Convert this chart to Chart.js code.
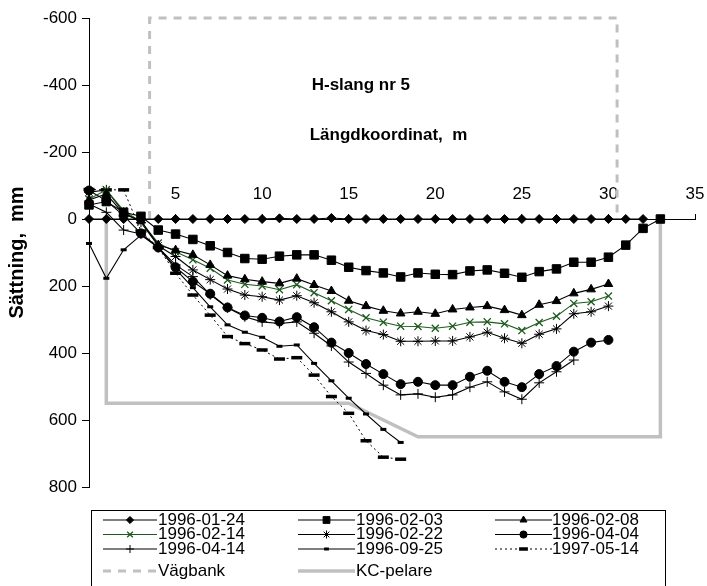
<!DOCTYPE html>
<html><head><meta charset="utf-8">
<script src="https://cdn.jsdelivr.net/npm/chart.js"></script>
<style>html,body{margin:0;padding:0;background:#fff;overflow:hidden}#wrap{position:relative;width:707px;height:586px}</style>
</head><body><div id="wrap"><canvas id="c" width="707" height="586"></canvas></div>
<script>
// ---- data (x = length coordinate in m, y = settlement in mm; negative = heave) ----
const meters = [0,1,2,3,4,5,6,7,8,9,10,11,12,13,14,15,16,17,18,19,20,21,22,23,24,25,26,27,28,29,30,31,32,33];
const s19960124 = [0,0,0,0,0,0,0,0,0,0,0,-2,0,0,-3,0,0,0,0,0,0,0,0,0,0,0,0,0,0,0,0,0,0];
const s19960203 = [-42,-52,-20,-8,33,45,61,80,100,118,120,111,107,107,123,144,154,161,173,161,165,166,155,152,162,174,157,149,129,129,114,78,28,0];
const s19960208 = [-57,-75,-15,5,78,93,107,137,169,180,187,192,178,197,215,244,260,274,282,277,283,270,264,260,272,287,256,245,222,210,194];
const s19960214 = [-59,-87,-25,8,72,98,122,147,182,195,200,211,196,220,244,270,295,308,320,321,326,320,308,307,313,333,309,290,252,247,230];
const s19960222 = [-80,-87,-20,10,80,112,152,181,209,227,232,242,229,250,277,307,333,345,365,365,364,364,352,338,356,371,344,328,283,277,260];
const s19960404 = [-85,-55,-10,43,85,144,187,223,264,288,295,306,293,323,369,400,433,463,493,486,496,496,471,453,486,502,463,439,396,369,361];
const s19960414 = [-45,-20,33,45,85,137,172,226,265,292,307,312,307,341,379,427,461,496,525,522,532,525,502,486,516,538,489,456,421];
const s19960925 = [73,177,92,48,85,150,205,262,316,338,353,380,376,431,483,535,582,628,667];
const s19970514 = [-88,-87,-87,36,85,162,227,287,351,372,391,418,414,466,530,580,662,711,717];
const vagbankX = [3.5,3.5,30.5,30.5];
const vagbankY = [0,-600,-600,0];
const kcX = [1,1,15,19,33,33];
const kcY = [0,550,550,650,650,0];
const xTicks = [5,10,15,20,25,30,35];
const yTicks = [-600,-400,-200,0,200,400,600,800];

const BLACK = '#000000', GREEN = '#1e5a1e', GREY = '#c0c0c0';
const FONT = "'Liberation Sans', Arial, sans-serif";
function pts(vals){ return vals.map((v,i)=>({x:meters[i], y:v})); }
function xy(xs, ys){ return xs.map((x,i)=>({x:x, y:ys[i]})); }

function series(label, vals, style, radius, opts){
  return Object.assign({
    label: label, data: pts(vals), borderColor: BLACK, backgroundColor: BLACK,
    pointBackgroundColor: BLACK, pointBorderColor: BLACK,
    borderWidth: 1.1, pointStyle: style, pointRadius: radius, pointBorderWidth: 1,
    tension: 0, clip: false
  }, opts || {});
}

const datasets = [
  series('1996-01-24', s19960124, 'rectRot', 4.5),
  series('1996-02-03', s19960203, 'rect', 6),
  series('1996-02-08', s19960208, 'triangle', 5),
  series('1996-02-14', s19960214, 'crossRot', 5, {borderColor: GREEN, pointBorderColor: GREEN, pointBackgroundColor: GREEN, backgroundColor: GREEN, pointBorderWidth: 1.3}),
  series('1996-02-22', s19960222, 'star', 5),
  series('1996-04-04', s19960404, 'circle', 4.5),
  series('1996-04-14', s19960414, 'cross', 5),
  series('1996-09-25', s19960925, 'line', 3, {pointBorderWidth: 3}),
  series('1997-05-14', s19970514, 'line', 5.5, {pointBorderWidth: 3.5, borderDash: [2,3], borderWidth: 1}),
  {label: 'Vägbank', data: xy(vagbankX, vagbankY), borderColor: GREY, backgroundColor: GREY, borderWidth: 3, borderDash: [8,7], pointRadius: 0, tension: 0, order: 10, clip: false},
  {label: 'KC-pelare', data: xy(kcX, kcY), borderColor: GREY, backgroundColor: GREY, borderWidth: 3.5, pointRadius: 0, tension: 0, order: 11, clip: false}
];

const innerText = {
  id: 'innerText',
  afterDraw(chart){
    const ctx = chart.ctx, xs = chart.scales.x, ys = chart.scales.y;
    ctx.save();
    ctx.fillStyle = '#000';
    ctx.font = 'bold 17px ' + FONT;
    ctx.textAlign = 'center'; ctx.textBaseline = 'middle';
    ctx.fillText('H-slang nr 5', xs.getPixelForValue(15.7), ys.getPixelForValue(-398));
    ctx.fillText('Längdkoordinat,  m', xs.getPixelForValue(17.3), ys.getPixelForValue(-250));
    ctx.restore();
  }
};

const customLegend = {
  id: 'customLegend',
  afterDraw(chart){
    const ctx = chart.ctx;
    ctx.save();
    ctx.strokeStyle = '#000'; ctx.lineWidth = 1; ctx.setLineDash([]);
    ctx.strokeRect(91.5, 510.5, 574, 90);
    const cols = [{l0:103,l1:157,tx:158},{l0:298,l1:355,tx:356},{l0:495,l1:552,tx:552}];
    const rows = [520, 534.5, 549, 571];
    chart.data.datasets.forEach((ds, i) => {
      const c = cols[i % 3], ry = rows[Math.floor(i / 3)];
      const mx = (c.l0 + c.l1) / 2;
      ctx.save();
      ctx.strokeStyle = ds.borderColor; ctx.lineWidth = ds.borderWidth;
      ctx.setLineDash(ds.borderDash || []);
      ctx.beginPath(); ctx.moveTo(c.l0, ry); ctx.lineTo(c.l1, ry); ctx.stroke();
      ctx.setLineDash([]);
      if (ds.pointRadius > 0) {
        ctx.fillStyle = ds.pointBackgroundColor; ctx.strokeStyle = ds.pointBorderColor;
        ctx.lineWidth = ds.pointBorderWidth;
        Chart.helpers.drawPoint(ctx, {pointStyle: ds.pointStyle, radius: ds.pointRadius * 0.8, rotation: 0, borderWidth: ds.pointBorderWidth}, mx, ry);
      }
      ctx.restore();
      ctx.fillStyle = '#000'; ctx.font = '17px ' + FONT;
      ctx.textAlign = 'left'; ctx.textBaseline = 'middle';
      ctx.fillText(ds.label, c.tx, ry);
    });
    ctx.restore();
  }
};

Chart.defaults.font.family = FONT;
Chart.defaults.font.size = 17;
Chart.defaults.color = '#000';

new Chart(document.getElementById('c'), {
  type: 'line',
  data: { datasets: datasets },
  plugins: [innerText, customLegend],
  options: {
    responsive: false, animation: false, devicePixelRatio: 1,
    layout: { padding: { left: 0, right: 12, top: 18, bottom: 99 } },
    plugins: { legend: { display: false }, tooltip: { enabled: false }, title: { display: false } },
    scales: {
      x: {
        type: 'linear', min: 0, max: 35, position: { y: 0 },
        afterBuildTicks(scale){ scale.ticks = xTicks.map(v => ({value: v})); },
        ticks: { callback: v => String(v), padding: -29, maxRotation: 0, autoSkip: false, font: {size: 17} },
        grid: { drawOnChartArea: false, drawTicks: true, tickLength: -6, color: '#000', lineWidth: 1 },
        border: { display: true, color: '#000', width: 1 }
      },
      y: {
        type: 'linear', min: -600, max: 800, reverse: true, position: 'left',
        afterBuildTicks(scale){ scale.ticks = yTicks.map(v => ({value: v})); },
        afterFit(scale){ scale.width = 89; },
        ticks: { callback: v => String(v), padding: 5, font: {size: 17} },
        grid: { drawOnChartArea: false, drawTicks: true, tickLength: 7, color: '#000', lineWidth: 1 },
        border: { display: true, color: '#000', width: 1 },
        title: { display: true, text: 'Sättning,  mm', font: {size: 20, weight: 'bold'}, color: '#000', padding: {top: 5, bottom: 0} }
      }
    }
  }
});
</script></body></html>
